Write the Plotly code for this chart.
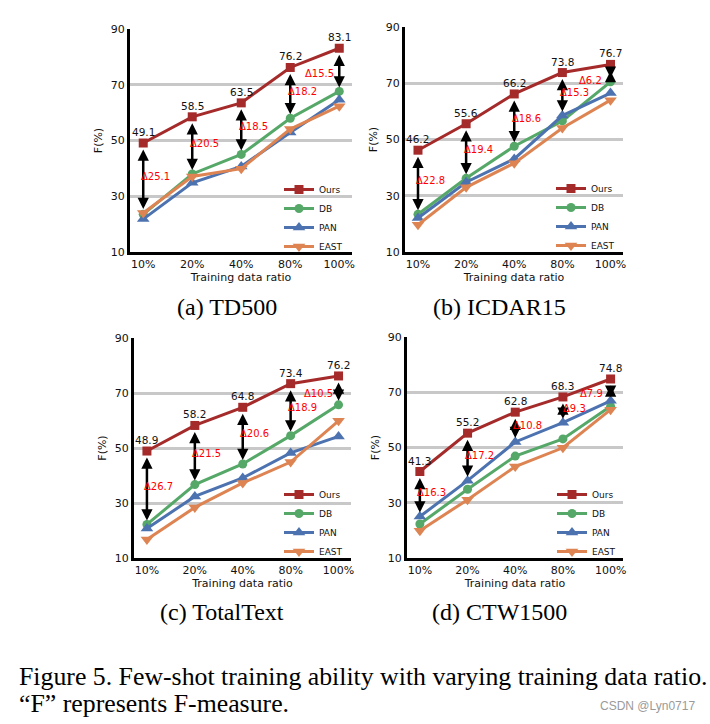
import plotly.graph_objects as go

# ---------------- data ----------------
ratios = ["10%", "20%", "40%", "80%", "100%"]
methods = ["Ours", "DB", "PAN", "EAST"]
panel_names = ["(a) TD500", "(b) ICDAR15", "(c) TotalText", "(d) CTW1500"]

td500_ours = [49.1, 58.5, 63.5, 76.2, 83.1]
td500_db = [23.5, 38.0, 45.0, 58.0, 67.6]
td500_pan = [21.8, 34.8, 40.7, 52.9, 64.6]
td500_east = [24.0, 37.1, 39.9, 54.1, 62.3]
td500_delta = [25.1, 20.5, 18.5, 18.2, 15.5]

icdar15_ours = [46.2, 55.6, 66.2, 73.8, 76.7]
icdar15_db = [23.4, 36.2, 47.6, 56.6, 70.5]
icdar15_pan = [22.1, 34.8, 43.1, 58.5, 66.5]
icdar15_east = [19.7, 33.0, 41.6, 54.1, 64.0]
icdar15_delta = [22.8, 19.4, 18.6, 15.3, 6.2]

totaltext_ours = [48.9, 58.2, 64.8, 73.4, 76.2]
totaltext_db = [22.2, 36.7, 44.2, 54.5, 65.7]
totaltext_pan = [20.7, 32.4, 39.1, 48.2, 54.2]
totaltext_east = [16.7, 28.4, 37.3, 44.9, 59.9]
totaltext_delta = [26.7, 21.5, 20.6, 18.9, 10.5]

ctw1500_ours = [41.3, 55.2, 62.8, 68.3, 74.8]
ctw1500_db = [22.3, 34.9, 46.9, 53.1, 64.9]
ctw1500_pan = [25.0, 38.0, 52.0, 59.0, 66.9]
ctw1500_east = [19.9, 31.1, 43.1, 49.9, 63.7]
ctw1500_delta = [16.3, 17.2, 10.8, 9.3, 7.9]

y_ticks = [10, 30, 50, 70, 90]

panels = [
    [td500_ours, td500_db, td500_pan, td500_east, td500_delta],
    [icdar15_ours, icdar15_db, icdar15_pan, icdar15_east, icdar15_delta],
    [totaltext_ours, totaltext_db, totaltext_pan, totaltext_east, totaltext_delta],
    [ctw1500_ours, ctw1500_db, ctw1500_pan, ctw1500_east, ctw1500_delta],
]

# ---------------- style / layout ----------------
W, H = 710, 724
FONT = "DejaVu Sans"
SERIF = "Liberation Serif"
colors = ["#A52A2A", "#55A868", "#4C72B0", "#DD8452"]
symbols = ["square", "circle", "triangle-up", "triangle-down"]
msizes = [9, 9, 11, 11]

# plot areas in pixels: (left, right, top, bottom)
areas = [(130, 352, 29, 252), (405, 623, 27, 252),
         (134, 351, 338, 558), (407, 623, 337, 558)]
# legend top-left in pixels
legend_pos = [(279, 175), (551, 174), (279, 480), (552, 480)]
# caption centres in pixels
caption_pos = [(227, 307), (500, 307), (222, 612), (500, 612)]
# extra vertical offset of the last delta label (data units)
last_dy = [-1.45, -2.6, -1.25, -1.25]
x_range = [-0.27, 4.26]


def px(x):
    return x / W


def py(y):
    return 1 - y / H


fig = go.Figure()
annotations = []
layout = {}

for p, data in enumerate(panels):
    n = p + 1
    xa = "x" if n == 1 else f"x{n}"
    ya = "y" if n == 1 else f"y{n}"
    leg = "legend" if n == 1 else f"legend{n}"
    series = data[:4]
    delta = data[4]
    ours = series[0]

    for m, vals in enumerate(series):
        fig.add_trace(go.Scatter(
            x=ratios, y=vals, name=methods[m], mode="lines+markers",
            line=dict(color=colors[m], width=3),
            marker=dict(symbol=symbols[m], size=msizes[m], color=colors[m]),
            xaxis=xa, yaxis=ya, legend=leg, showlegend=True,
        ))

    l, r, t, b = areas[p]
    layout["xaxis" if n == 1 else f"xaxis{n}"] = dict(
        type="category", categoryorder="array", categoryarray=ratios,
        domain=[px(l), px(r)], anchor=ya, range=x_range, automargin=False,
        showgrid=False, zeroline=False, showline=True, linecolor="black",
        linewidth=3, ticks="", tickfont=dict(size=11, color="#111"),
        title=dict(text="Training data ratio", font=dict(size=11, color="#111"),
                   standoff=2),
        fixedrange=True,
    )
    layout["yaxis" if n == 1 else f"yaxis{n}"] = dict(
        domain=[py(b), py(t)], anchor=xa, range=[10, 90], tickvals=y_ticks,
        automargin=False,
        showgrid=True, gridcolor="#c8c8c8", gridwidth=3, zeroline=False,
        showline=True, linecolor="black", linewidth=3, ticks="",
        tickfont=dict(size=11, color="#111"),
        title=dict(text="F(%)", font=dict(size=11, color="#111"), standoff=6),
        fixedrange=True,
    )
    lx, ly = legend_pos[p]
    layout[leg] = dict(
        x=px(lx), y=py(ly), xanchor="left", yanchor="top",
        bgcolor="rgba(0,0,0,0)", font=dict(size=9, color="#111", family=FONT),
        tracegroupgap=0, itemwidth=30,
    )

    for i in range(len(ratios)):
        top = ours[i]
        low = ours[i] - delta[i]
        # value label above Ours
        annotations.append(dict(
            x=i, y=top, xref=xa, yref=ya, text=f"{top}", showarrow=False,
            yshift=11, font=dict(size=10.5, color="#111"),
        ))
        # double-headed arrow
        annotations.append(dict(
            x=i, y=low, ax=i, ay=top, xref=xa, yref=ya, axref=xa, ayref=ya,
            text="", showarrow=True, arrowside="end+start",
            arrowhead=2, startarrowhead=2, arrowsize=0.9, startarrowsize=0.9,
            arrowwidth=2.5, arrowcolor="black", standoff=4, startstandoff=5,
        ))
        # delta label
        mid = (top + low) / 2
        if i < len(ratios) - 1:
            lxv, lyv = i + 0.25, mid + 0.6
        else:
            lxv, lyv = i - 0.41, mid + last_dy[p]
        annotations.append(dict(
            x=lxv, y=lyv, xref=xa, yref=ya, text=f"\u0394{delta[i]}",
            showarrow=False, font=dict(size=10, color="#ff0000"),
        ))

    cx, cy = caption_pos[p]
    annotations.append(dict(
        x=px(cx), y=py(cy), xref="paper", yref="paper", text=panel_names[p],
        showarrow=False, xanchor="center", yanchor="middle",
        font=dict(family=SERIF, size=24, color="black"),
    ))

annotations.append(dict(
    x=px(17), y=py(676), xref="paper", yref="paper",
    text="Figure 5. Few-shot training ability with varying training data ratio.",
    showarrow=False, xanchor="left", yanchor="middle",
    font=dict(family=SERIF, size=25.8, color="black"),
))
annotations.append(dict(
    x=px(17), y=py(703), xref="paper", yref="paper",
    text="\u201cF\u201d represents F-measure.",
    showarrow=False, xanchor="left", yanchor="middle",
    font=dict(family=SERIF, size=25.8, color="black"),
))
annotations.append(dict(
    x=px(697), y=py(706), xref="paper", yref="paper", text="CSDN @Lyn0717",
    showarrow=False, xanchor="right", yanchor="middle",
    font=dict(family="Liberation Sans", size=12, color="#9a9a9a"),
))

fig.update_layout(
    template="none",
    width=W, height=H, autosize=False,
    margin=dict(l=0, r=0, t=0, b=0, pad=0, autoexpand=False),
    paper_bgcolor="white", plot_bgcolor="white",
    font=dict(family=FONT, size=10, color="#111"),
    annotations=annotations,
    **layout,
)

fig.write_html(
    "out.html",
    config={"displayModeBar": False, "staticPlot": True},
    post_script="document.body.style.margin='0';document.body.style.padding='0';"
                "document.body.style.overflow='hidden';",
)
